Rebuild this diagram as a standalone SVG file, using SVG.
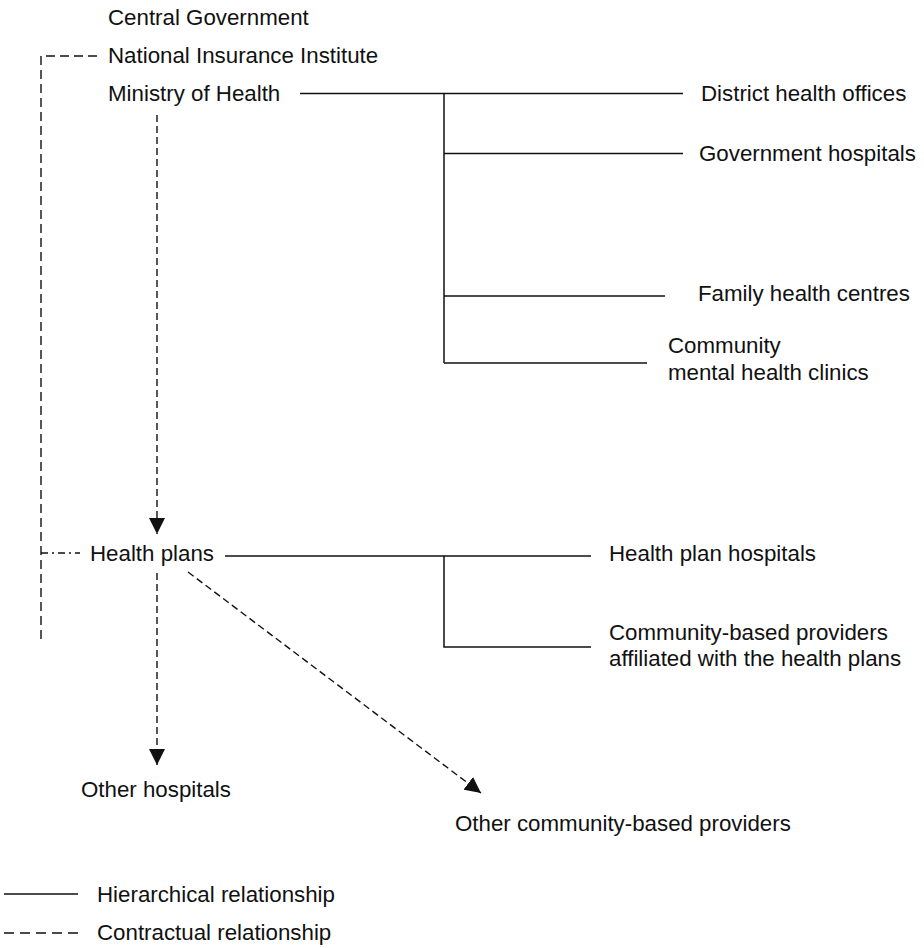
<svg xmlns="http://www.w3.org/2000/svg" width="924" height="948" viewBox="0 0 924 948">
<style>
text{font-family:"Liberation Sans",Arial,sans-serif;font-size:22.3px;fill:#111}
.s{stroke:#111;stroke-width:1.5;fill:none}
.d{stroke:#111;stroke-width:1.4;fill:none;stroke-dasharray:7 4}
.dd{stroke:#111;stroke-width:1.4;fill:none;stroke-dasharray:7 4 2 4}
</style>
<defs>
<marker id="ah" markerUnits="userSpaceOnUse" markerWidth="16" markerHeight="16" refX="15" refY="7.5" orient="auto" viewBox="0 0 15 15">
<path d="M0,0 L15,7.5 L0,15 z" fill="#111"/>
</marker>
</defs>
<rect width="924" height="948" fill="#fff"/>
<g id="connectors">
<path class="d" d="M97,56 H41 V642" style="stroke-dasharray:9 5"/>
<path class="dd" d="M41,553 H80"/>
<path class="s" d="M300,93.5 H683"/>
<path class="s" d="M444,93.5 V363"/>
<path class="s" d="M444,153.5 H683"/>
<path class="s" d="M444,296 H665"/>
<path class="s" d="M444,363 H647"/>
<path class="s" d="M225,556 H591"/>
<path class="s" d="M444,556 V647 H591"/>
<path class="d" d="M157,115 V534" marker-end="url(#ah)"/>
<path class="d" d="M157,573 V765" marker-end="url(#ah)"/>
<path class="d" d="M188,572 L481,793" marker-end="url(#ah)"/>
</g>
<g id="central-government"><text x="108" y="25">Central Government</text></g>
<g id="national-insurance-institute"><text x="108" y="63">National Insurance Institute</text></g>
<g id="ministry-of-health"><text x="108" y="101">Ministry of Health</text></g>
<g id="district-health-offices"><text x="701" y="101">District health offices</text></g>
<g id="government-hospitals"><text x="699" y="161">Government hospitals</text></g>
<g id="family-health-centres"><text x="698" y="301">Family health centres</text></g>
<g id="community-mental-health-clinics"><text x="668" y="353">Community</text><text x="668" y="380">mental health clinics</text></g>
<g id="health-plans"><text x="90" y="561">Health plans</text></g>
<g id="health-plan-hospitals"><text x="609" y="561">Health plan hospitals</text></g>
<g id="community-based-providers"><text x="609" y="640">Community-based providers</text><text x="609" y="666">affiliated with the health plans</text></g>
<g id="other-hospitals"><text x="81" y="797">Other hospitals</text></g>
<g id="other-community-based-providers"><text x="455" y="831">Other community-based providers</text></g>
<g id="legend">
<path class="s" d="M4,894 H78"/>
<text x="97" y="902">Hierarchical relationship</text>
<path class="d" d="M4,933 H78" style="stroke-dasharray:10 6"/>
<text x="97" y="940">Contractual relationship</text>
</g>
</svg>
